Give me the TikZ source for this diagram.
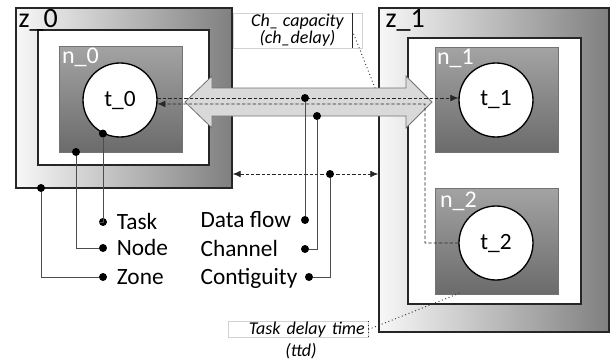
\documentclass[tikz,border=0pt]{standalone}
\usepackage{fontspec}
\setmainfont{Carlito}
\usepackage{xcolor}
\usepackage{tikz}
\usetikzlibrary{shapes,arrows,arrows.meta,positioning}

\begin{document}
\begin{tikzpicture}[x=0.75pt, y=-0.75pt, >={Latex[length=6pt,width=5pt]}, font=\fontsize{17.5}{20}\selectfont]
                    % Define styles
                    \tikzstyle{zone} = [rectangle, draw=black!85, line width=1.1pt, left color=black!3, right color=black!50, inner sep=0pt]
                    \tikzstyle{zonein} = [rectangle, draw=black!85, line width=1.1pt, fill=white, inner sep=0pt]
                    \tikzstyle{host} = [rectangle, draw=black!55, top color=black!36, bottom color=black!58, inner sep=0pt]
                    \tikzstyle{task} = [circle, draw, line width=1pt, fill=white, minimum size=55.5pt, inner sep=0pt, font=\fontsize{17.5}{19}\selectfont]
                    \tikzstyle{zonelabel} = [anchor=base west, inner sep=0pt, font=\fontsize{21}{23}\selectfont]
                    \tikzstyle{hostlabel} = [anchor=base west, inner sep=0pt, text=white, font=\fontsize{18}{20}\selectfont]
                    \tikzstyle{chan} = [draw=black!55, fill=black!15, line width=0.6pt]
                    \tikzstyle{flow} = [draw=black!85, dashed, dash pattern=on 2.5pt off 1.5pt, line width=0.5pt]
                    \tikzstyle{dot} = [circle, fill=black, inner sep=0pt, minimum size=6pt]
                    \tikzstyle{leader} = [draw=black!70, line width=0.6pt]
                    \tikzstyle{legend} = [inner sep=1pt, text height=12pt, text depth=1pt]
                    \tikzstyle{note} = [rectangle, draw=black!18, line width=0.5pt, inner sep=0pt, font=\itshape\fontsize{13.5}{13}\selectfont]
                    \tikzstyle{pointer} = [draw=black!80, dotted, line width=0.7pt]

                    \useasboundingbox (0,0) rectangle (612,364);

                    % Zones
                    \node [zone, minimum width=162pt, minimum height=135pt] (z0) at (124,98) {};
                    \node [zonein, minimum width=128.25pt, minimum height=101.25pt] (z0in) at (123.5,97.5) {};
                    \node [zone, minimum width=172.5pt, minimum height=243pt] (z1) at (494,170) {};
                    \node [zonein, minimum width=129.75pt, minimum height=199.5pt] (z1in) at (494.5,171) {};
                    \node [zonelabel] (z0lbl) at ([shift={(3,20)}]z0.north west) {z\_0};
                    \node [zonelabel] (z1lbl) at ([shift={(7,20)}]z1.north west) {z\_1};

                    % Nodes
                    \node [host, minimum width=92.25pt, minimum height=79.5pt] (n0) at (120.5,99) {};
                    \node [host, minimum width=92.25pt, minimum height=78.75pt] (n1) at (496.5,99.5) {};
                    \node [host, minimum width=92.25pt, minimum height=79.5pt] (n2) at (496.5,241) {};
                    \node [hostlabel] (n0lbl) at ([shift={(3,18)}]n0.north west) {n\_0};
                    \node [hostlabel] (n1lbl) at ([shift={(2,18)}]n1.north west) {n\_1};
                    \node [hostlabel] (n2lbl) at ([shift={(5,20)}]n2.north west) {n\_2};

                    % Tasks
                    \node [task] (t0) at (120,100) {t\_0};
                    \node [task] (t1) at (496,100) {t\_1};
                    \node [task] (t2) at (496,243) {t\_2};

                    % Channel
                    \draw [chan] (185,102) -- (212,76) -- (212,88) -- (406,88) -- (406,76) -- (432,102) -- (406,128) -- (406,116) -- (212,116) -- (212,128) -- cycle;

                    % Data flows
                    \coordinate (split) at (425,104);
                    \draw [flow, ->] (t0.3) -- (t1.177);
                    \draw [flow, ->] (t2.west) -| (split) -- (t0.-6);

                    % Contiguity
                    \coordinate (adj) at (330,174);
                    \draw [flow, <->] (z0.east |- adj) -- (z1.west |- adj);

                    % Legend
                    \node [dot] (tsrc) at (t0.243) {};
                    \node [dot] (nsrc) at (76,152) {};
                    \node [dot] (zsrc) at (41,188) {};
                    \node [dot] (dsrc) at (305,98) {};
                    \node [dot] (csrc) at (317,116) {};
                    \node [dot] (asrc) at (adj) {};
                    \node [dot] (tdot) at (103,222) {};
                    \node [dot] (ndot) at (103,248) {};
                    \node [dot] (zdot) at (103,277) {};
                    \node [dot] (ddot) at (305,220) {};
                    \node [dot] (cdot) at (305,249) {};
                    \node [dot] (adot) at (309,277) {};
                    \node [legend, right=6pt of tdot] (tlbl) {Task};
                    \node [legend, right=6pt of ndot] (nlbl) {Node};
                    \node [legend, right=6pt of zdot] (zlbl) {Zone};
                    \node [legend, anchor=west] (dlbl) at (199,220) {Data flow};
                    \node [legend, anchor=west] (clbl) at (199,249) {Channel};
                    \node [legend, anchor=west] (albl) at (199,277) {Contiguity};
                    \draw [leader] (tsrc) |- (tdot);
                    \draw [leader] (nsrc) |- (ndot);
                    \draw [leader] (zsrc) |- (zdot);
                    \draw [leader] (dsrc) -- (ddot);
                    \draw [leader] (csrc) |- (cdot);
                    \draw [leader] (asrc) |- (adot);

                    % Notes
                    \node [note, minimum width=96.75pt, minimum height=26.25pt, align=center] (capnote) at (297.5,30.5) {Ch\_ capacity\\(ch\_delay)};
                    \draw [black!85, line width=0.8pt] ([xshift=-7.5pt]capnote.north east) -- ([xshift=-7.5pt]capnote.south east);
                    \coordinate (chtop) at (375,88);
                    \draw [pointer] ([xshift=-7.5pt]capnote.east) -- (chtop);
                    \node [note, minimum width=105pt, minimum height=11.25pt, text width=100pt, align=right, text height=10pt, text depth=2pt] (ttdnote) at (298,329.5) {Task delay time};
                    \node [inner sep=0pt, anchor=base, font=\itshape\fontsize{13.5}{13}\selectfont] (ttdlbl) at (301,356) {(ttd)};
                    \draw [pointer] (ttdnote.north east) -- (ttdnote.south east);
                    \coordinate (ttdpt) at (460,293);
                    \draw [pointer] (ttdnote.east) -- (ttdpt);
                \end{tikzpicture}
\end{document}
